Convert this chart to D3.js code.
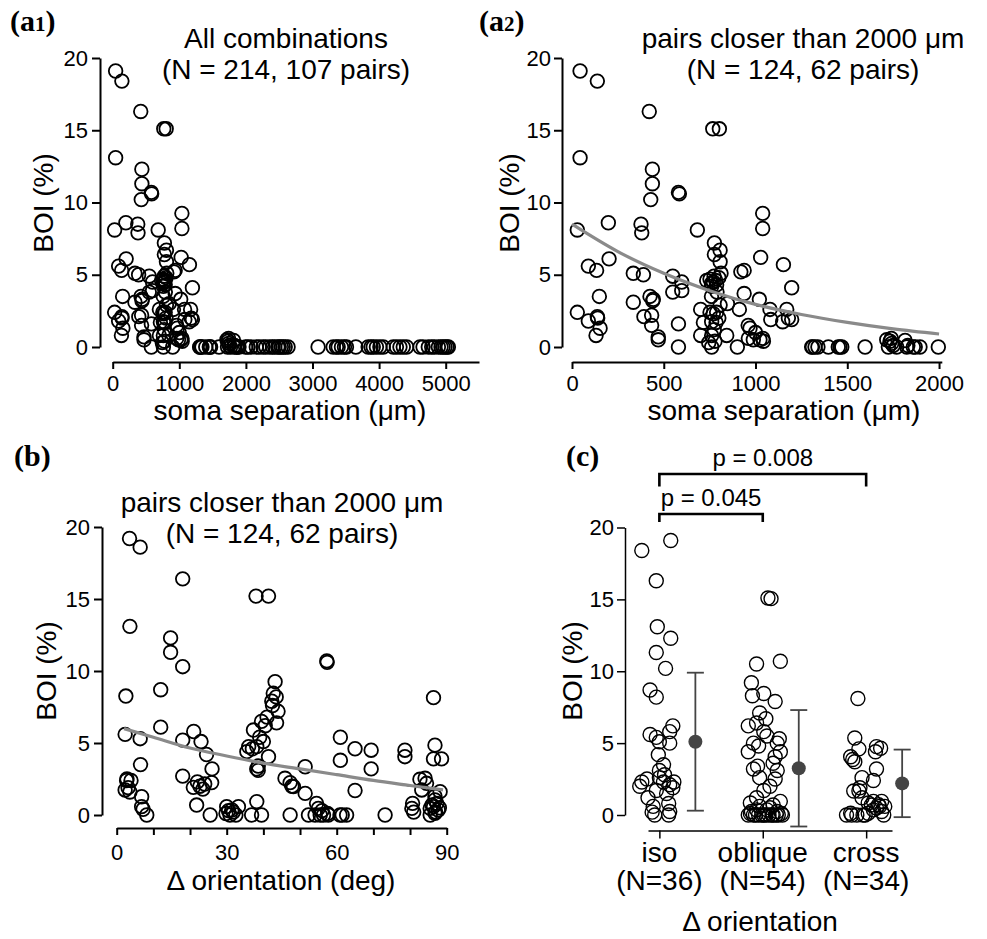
<!DOCTYPE html>
<html>
<head>
<meta charset="utf-8">
<script src="https://cdn.jsdelivr.net/npm/d3@7"></script>
<style>
  body { margin: 0; background: #fff; }
  svg text { font-family: "Liberation Sans", Arial, Helvetica, sans-serif; fill: #000; }
  svg text.plabel { font-family: "Liberation Serif", "Times New Roman", serif; font-weight: bold; }
</style>
</head>
<body>
<svg id="fig" width="987" height="939"></svg>
<script>
(function(){

  // ---- data ----

  // pairs closer than 2000 um: soma separation (um) and BOI (%), N = 124
  var nearSep = [44,138,421,767,803,44,438,438,429,580,585,1039,1039,29,198,376,380,683,776,776,
    807,807,812,1028,1152,1197,89,134,202,334,389,334,149,29,89,138,153,131,392,434,
    425,443,434,470,470,549,549,598,598,580,580,734,752,770,783,761,788,774,701,716,
    701,752,770,788,761,785,761,779,761,843,807,847,901,920,938,938,912,970,961,988,
    1024,1043,1021,1079,1083,1148,1170,1179,1197,1324,1306,1397,1451,1470,1597,1715,1733,1742,1724,1769,
    1815,1824,1860,1896,1996,760,790,775,800,745,1040,1310,1340,1460,1740,1750,1830,1870,1000,960,
    140,760,800,440];
  var nearBOI = [19.1,18.4,16.3,15.1,15.1,13.1,12.3,11.3,10.2,10.7,10.6,9.25,8.2,8.1,8.6,8.5,7.9,8.1,7.2,6.4,
    6.7,5.9,5.1,6.2,5.7,4.1,5.6,5.3,6.1,5.1,5.0,3.1,3.5,2.4,1.8,2.1,1.3,0.8,2.1,2.2,
    3.5,3.3,1.5,0.7,0.5,4.9,3.8,4.5,3.9,1.6,0,4.6,4.7,4.5,4.6,4.2,4.3,4.9,2.6,1.7,
    0.8,2.4,2.3,2.4,1.75,1.7,0.8,0.4,0,0.8,2.9,3.0,0,5.2,5.3,3.7,2.6,1.3,0.6,0.5,
    0.5,0.4,3.3,2.6,1.9,1.75,2.6,2.0,1.9,0,0,0,0,0,0,0.5,0.4,0.25,0,0,
    0.45,0,0,0,0,3.5,3.8,1.2,2.0,0.3,0.6,0,0,0,0.6,0.1,0.1,0,1.0,1.5,
    2.0,4.4,4.8,3.2];

  // pairs further apart than 2000 um, all at BOI = 0
  var farSep = [2030,2080,2156,2200,2257,2300,2357,2400,2432,2480,2500,2532,2560,2590,2633,
    3084,3310,3360,3385,3435,3480,3510,3651,3836,3880,3912,3960,4012,4062,
    4212,4260,4313,4363,4413,4614,4660,4739,4790,4830,4890,4930,4960,4990,5020,5040];

  // delta orientation (deg) and BOI (%), N = 124
  var oriDeg = [3.5,6.4,18,38,41.4,3.6,14.7,14.7,18,57.3,57.4,43.2,42.7,43.5,2.5,12,42.3,44,43.6,86.4,
    12,2.3,6.4,18,21,23,24.5,26,18,6.5,2.7,3.9,36,35.5,37.3,39.5,41,38.2,40,41.4,
    38.2,38.6,61,61,65,69.4,69.4,78.6,78.6,86.8,86.4,88.6,51.4,65,2.3,3.6,6.8,6.8,8.2,20.9,
    22.7,24,25.9,21.8,25.5,30,31.4,33.2,30.9,36.8,39.5,38.2,45.9,47.3,48.2,51.4,47.3,52.3,54.1,56.4,
    57.7,54.5,55,60.9,62.7,73.2,80.5,80.7,82.7,84.1,83.2,85.5,86.4,87.3,87.7,85.5,86.8,88.2,86.8,31.8,
    32.5,30.5,37,39,40.5,42.5,38.6,23.5,22,86,87,88,86.8,84.5,55.5,56,3.1,2.8,7.2,47.8,
    57.5,81,61.5,29.8];
  var oriBOI = [19.2,18.6,16.4,15.2,15.2,13.1,12.3,11.3,10.3,10.7,10.6,9.26,8.45,8.2,8.26,8.7,7.9,7.2,6.4,8.15,
    6.1,5.6,5.3,5.2,5.8,5.1,4.2,3.2,2.7,3.5,2.4,2.4,4.75,4.4,5.9,6.5,6.8,4.75,5.1,4.05,
    3.2,3.1,5.4,3.8,4.6,4.5,3.2,4.5,4.05,4.85,3.9,3.9,3.35,1.7,1.74,1.6,1.27,0.58,0,1.92,
    2.0,2.15,2.25,0.69,0,0.58,0.35,0.58,0,0,0,0.93,2.55,2.25,1.97,1.5,0,0,0,0,
    0,0.81,0.46,0,0,0,0.46,0.81,2.48,2.55,1.74,0.46,0.58,0.81,0.35,0,0.12,1.62,1.04,0.2,
    0,0.3,4.6,5.4,6.2,7.6,3.4,1.8,2.3,0.7,0.2,0.5,1.3,2.2,0,0.3,1.9,2.5,0.4,2.0,
    0.1,0.2,0,0.1];

  // exponential fits, sampled from the drawn grey curves
  var fitSep = [0,250,500,750,1000,1250,1500,1750,2000];
  var fitSepBOI = [8.5,6.6,5.1,3.9,2.95,2.25,1.7,1.25,0.9];
  var fitOri = [2,10,20,30,40,50,60,70,80,89];
  var fitOriBOI = [6.0,5.4,4.65,4.1,3.6,3.2,2.8,2.4,2.05,1.74];

  // panel c: orientation groups (jittered position around group index 1..3, BOI %)
  var groups = ['iso','oblique','cross'];
  var groupN = [36,54,34];
  var isoPos = [0.83,1.11,0.97,0.98,1.11,0.97,1.06,0.91,0.97,1.13,1.10,0.91,0.97,1.0,1.10,0.99,1.04,1.0,0.83,0.88,
    0.81,1.0,0.97,1.10,1.13,1.07,0.94,1.09,0.955,1.09,1.10,1.04,1.14,0.89,1.05,0.93];
  var isoBOI = [18.4,19.1,16.3,13.1,12.3,11.3,10.2,8.7,8.2,6.2,5.8,5.6,5.4,5.1,5.0,4.2,3.5,3.1,2.3,2.5,
    2.0,2.6,1.7,2.1,1.9,1.5,0.6,0.8,0,0,0.24,2.3,2.3,1.2,2.8,0.2];
  var oblPos = [2.05,2.08,1.94,2.17,1.89,1.90,2.01,2.12,1.97,2.03,1.86,1.94,2.01,1.91,1.96,1.86,2.14,2.17,2.12,1.91,
    2.14,2.12,1.97,2.07,2.01,1.94,1.97,2.10,1.86,1.91,1.96,2.01,2.06,2.10,2.15,2.19,1.89,1.94,2.04,2.14,
    1.88,2.17,1.99,2.03,2.09,2.13,1.93,1.88,2.18,2.07,2.10,1.95,2.16,2.04];
  var oblBOI = [15.1,15.05,10.5,10.7,9.2,8.3,8.45,7.9,7.1,6.7,6.2,6.4,5.8,5.0,4.8,4.4,5.0,4.4,4.05,3.2,
    3.1,2.5,2.6,2.0,1.7,1.2,0.6,0.7,0,0,0,0,0,0,0,0,0.24,0.36,0.36,0.24,
    0.83,0.95,0,0,0,0,0,0.1,0.1,0.5,3.6,3.4,5.3,5.5];
  var crsPos = [2.92,2.89,2.85,2.87,2.89,2.93,3.10,3.14,3.09,3.10,3.07,2.96,2.88,2.93,2.96,2.81,2.86,2.91,2.97,3.02,
    3.02,3.07,3.12,3.15,3.18,3.10,3.15,3.07,3.17,2.85,3.05,2.94,3.13,2.99];
  var crsBOI = [8.1,5.36,4.05,3.86,3.7,4.6,4.76,4.64,4.4,3.2,2.4,2.6,1.67,1.67,1.2,0,0,0,0,0.12,
    0.83,0.95,0.71,0.95,0.6,0.48,0.24,0.36,0,0.12,0.7,1.9,0.6,0];
  var groupMean = [5.1,3.25,2.2];
  var groupSD = [4.8,4.05,2.35];
  var pTests = [[1,2,'p = 0.045'],[1,3,'p = 0.008']];

  var boiTicks = [0,5,10,15,20];

  // ---- drawing ----

  var svg = d3.select('#fig');
  var FONT = '"Liberation Sans", Arial, Helvetica, sans-serif';

  function styleAxis(g, size, sw){
    g.attr('font-family', FONT).attr('font-size', size);
    g.select('.domain').attr('stroke-width', sw);
    g.selectAll('.tick line').attr('stroke-width', sw);
    g.selectAll('.tick text').attr('fill', '#000');
  }

  function yAxisAt(x0, y, sw, pad){
    var g = svg.append('g')
      .attr('transform', 'translate(' + x0 + ',0)')
      .call(d3.axisLeft(y).tickValues(boiTicks).tickSize(8).tickPadding(pad).tickSizeOuter(0));
    styleAxis(g, 22, sw);
    return g;
  }

  function xAxisAt(y0, x, ticks, fmt, pad){
    var g = svg.append('g')
      .attr('transform', 'translate(0,' + y0 + ')')
      .call(d3.axisBottom(x).tickValues(ticks).tickFormat(fmt).tickSize(7).tickPadding(pad).tickSizeOuter(0));
    styleAxis(g, 22, 2);
    return g;
  }

  function text(x, y, str, size){
    return svg.append('text')
      .attr('x', x).attr('y', y)
      .attr('text-anchor', 'middle')
      .attr('font-size', size)
      .text(str);
  }

  function yLabel(x, y){
    svg.append('text')
      .attr('transform', 'translate(' + x + ',' + y + ') rotate(-90)')
      .attr('text-anchor', 'middle')
      .attr('dominant-baseline', 'central')
      .attr('font-size', 28)
      .text('BOI (%)');
  }

  function panelLabel(x, y, letter, sub){
    var t = svg.append('text').attr('class', 'plabel')
      .attr('x', x).attr('y', y).attr('font-size', 30);
    t.append('tspan').text('(' + letter);
    if(sub) t.append('tspan').attr('font-size', 21).text(sub);
    t.append('tspan').text(')');
  }

  function rings(xs, ys, x, y, r, sw){
    svg.append('g').selectAll('circle')
      .data(xs.map(function(d, i){ return {x: d, y: ys[i]}; }))
      .enter().append('circle')
      .attr('cx', function(d){ return x(d.x); })
      .attr('cy', function(d){ return y(d.y); })
      .attr('r', r)
      .attr('fill', 'none')
      .attr('stroke', '#000')
      .attr('stroke-width', sw);
  }

  function fitLine(xs, ys, x, y){
    var pts = xs.map(function(d, i){ return [d, ys[i]]; });
    svg.append('path')
      .attr('d', d3.line()
        .x(function(d){ return x(d[0]); })
        .y(function(d){ return y(d[1]); })
        .curve(d3.curveMonotoneX)(pts))
      .attr('fill', 'none')
      .attr('stroke', '#8a8a8a')
      .attr('stroke-width', 3.2);
  }

  // (a1) all combinations
  var yA = d3.scaleLinear().domain([0, 20]).range([347, 58]);
  var xA1 = d3.scaleLinear().domain([0, 5500]).range([112.7, 479]);
  yAxisAt(100, yA, 2, 4);
  xAxisAt(362, xA1, [0,1000,2000,3000,4000,5000], d3.format('d'), 6);
  rings(farSep, farSep.map(function(){ return 0; }), xA1, yA, 6.8, 1.8);
  rings(nearSep, nearBOI, xA1, yA, 6.8, 1.8);
  text(286, 48, 'All combinations', 28);
  text(286, 79, '(N = 214, 107 pairs)', 28);
  text(290, 420, 'soma separation (\u03bcm)', 28);
  yLabel(43, 203);
  panelLabel(10, 31, 'a', '1');

  // (a2) pairs closer than 2000 um
  var xA2 = d3.scaleLinear().domain([0, 2015]).range([572, 941.8]);
  yAxisAt(562, yA, 2, 3);
  xAxisAt(362, xA2, [0,500,1000,1500,2000], d3.format('d'), 6);
  rings(nearSep, nearBOI, xA2, yA, 6.8, 1.8);
  fitLine(fitSep, fitSepBOI, xA2, yA);
  text(803, 48, 'pairs closer than 2000 \u03bcm', 28);
  text(803, 79, '(N = 124, 62 pairs)', 28);
  text(784, 420, 'soma separation (\u03bcm)', 28);
  yLabel(509, 203);
  panelLabel(479, 31, 'a', '2');

  // (b) BOI vs delta orientation
  var yB = d3.scaleLinear().domain([0, 20]).range([815, 527]);
  var xB = d3.scaleLinear().domain([0, 90]).range([116.7, 446.7]);
  yAxisAt(102, yB, 2, 4);
  xAxisAt(828, xB, d3.range(0, 91, 10), function(d){ return d % 30 === 0 ? d : ''; }, 9);
  rings(oriDeg, oriBOI, xB, yB, 6.8, 1.8);
  fitLine(fitOri, fitOriBOI, xB, yB);
  text(282, 512, 'pairs closer than 2000 \u03bcm', 28);
  text(282, 543, '(N = 124, 62 pairs)', 28);
  text(281, 890, '\u0394 orientation (deg)', 28);
  yLabel(46, 671);
  panelLabel(14, 466, 'b');

  // (c) BOI by orientation group
  var yC = d3.scaleLinear().domain([0, 20]).range([815, 527.5]);
  var xC = d3.scaleLinear().domain([0.89, 3.25]).range([648, 892]);
  var gy = svg.append('g')
    .attr('transform', 'translate(625,0)')
    .call(d3.axisLeft(yC).tickValues(boiTicks).tickSize(8).tickPadding(3).tickSizeOuter(0));
  styleAxis(gy, 22, 1.5);
  var gx = svg.append('g')
    .attr('transform', 'translate(0,830.5)')
    .call(d3.axisBottom(xC).tickValues([1,2,3]).tickFormat('').tickSize(8).tickSizeOuter(0));
  styleAxis(gx, 22, 1.5);

  rings(isoPos, isoBOI, xC, yC, 7, 1.4);
  rings(oblPos, oblBOI, xC, yC, 7, 1.4);
  rings(crsPos, crsBOI, xC, yC, 7, 1.4);

  var stats = svg.append('g').selectAll('g')
    .data(groupMean.map(function(m, i){ return {i: i + 1, m: m, sd: groupSD[i]}; }))
    .enter().append('g')
    .attr('transform', function(d){ return 'translate(' + (xC(d.i) + 36) + ',0)'; });
  stats.append('line')
    .attr('y1', function(d){ return yC(d.m - d.sd); })
    .attr('y2', function(d){ return yC(d.m + d.sd); })
    .attr('stroke', '#444').attr('stroke-width', 1.8);
  [-1, 1].forEach(function(s){
    stats.append('line')
      .attr('x1', -8.5).attr('x2', 8.5)
      .attr('y1', function(d){ return yC(d.m + s * d.sd); })
      .attr('y2', function(d){ return yC(d.m + s * d.sd); })
      .attr('stroke', '#444').attr('stroke-width', 1.8);
  });
  stats.append('circle')
    .attr('cy', function(d){ return yC(d.m); })
    .attr('r', 7)
    .attr('fill', '#444');

  var bracketY = [514, 474],
      bracketDrop = [8, 12.5];
  pTests.forEach(function(p, k){
    var x1 = xC(p[0]), x2 = xC(p[1]), by = bracketY[k];
    svg.append('path')
      .attr('d', 'M' + x1 + ',' + (by + bracketDrop[k]) + 'V' + by + 'H' + x2 + 'V' + (by + bracketDrop[k]))
      .attr('fill', 'none')
      .attr('stroke', '#000')
      .attr('stroke-width', 2.6);
    text((x1 + x2) / 2, by - 8.5, p[2], 24);
  });

  // category names with group sizes on a second line
  groups.forEach(function(name, i){
    var t = text(xC(i + 1), 862, null, 28);
    t.append('tspan').attr('x', xC(i + 1)).text(name);
    t.append('tspan').attr('x', xC(i + 1)).attr('dy', 28).text('(N=' + groupN[i] + ')');
  });
  text(760, 931, '\u0394 orientation', 28);
  yLabel(572, 671);
  panelLabel(566, 466, 'c');

})();
</script>
</body>
</html>
